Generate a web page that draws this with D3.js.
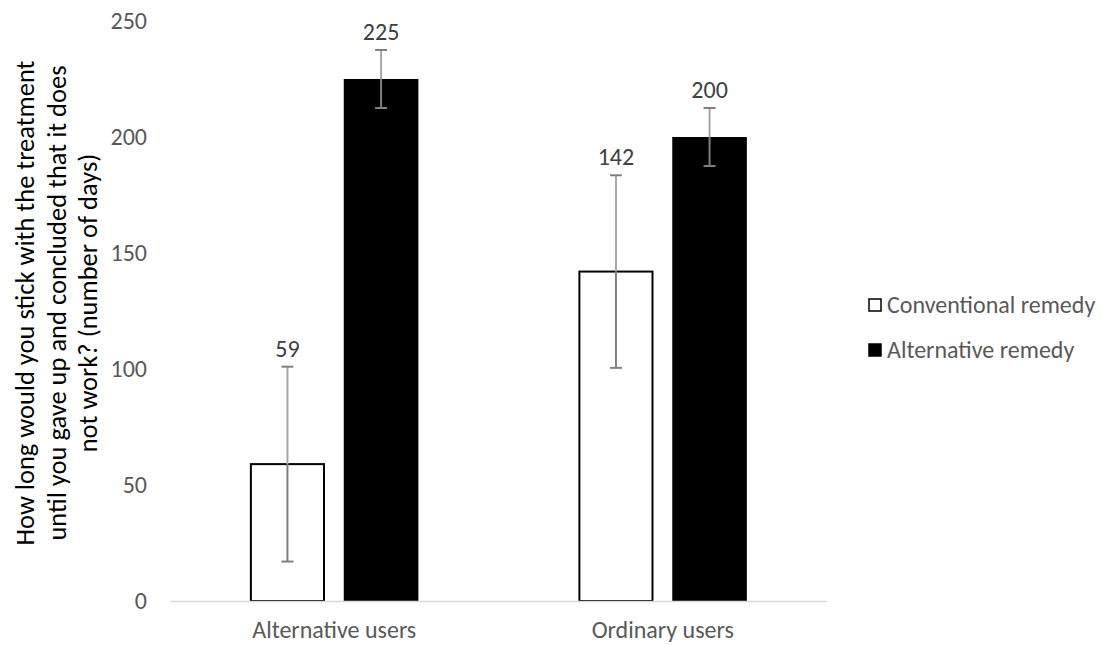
<!DOCTYPE html>
<html>
<head>
<meta charset="utf-8">
<script src="https://cdn.jsdelivr.net/npm/d3@7"></script>
<style>
  html, body { margin: 0; padding: 0; background: #fff; }
  svg { display: block; font-family: Calibri, Carlito, Lato, sans-serif; }
</style>
</head>
<body>
<svg id="chart" width="1101" height="645"></svg>
<script>
// ---- data ----
const categories = ["Alternative users", "Ordinary users"];
const seriesNames = ["Conventional remedy", "Alternative remedy"];
const conventionalValues = [59, 142];
const alternativeValues = [225, 200];
const conventionalErrors = [42, 41.5];
const alternativeErrors = [12.5, 12.5];
const yTicks = [0, 50, 100, 150, 200, 250];
const yTitleLines = [
  "How long would you stick with the treatment",
  "until you gave up and  concluded that it does",
  "not work? (number of days)"
];
const seriesFill = ["#ffffff", "#000000"];

(function () {
const rows = [];
categories.forEach((c, i) => {
  rows.push({cat: c, s: seriesNames[0], v: conventionalValues[i], e: conventionalErrors[i], fill: seriesFill[0]});
  rows.push({cat: c, s: seriesNames[1], v: alternativeValues[i], e: alternativeErrors[i], fill: seriesFill[1]});
});

const FONT = "Calibri, Carlito, Lato, sans-serif";
const svg = d3.select("#chart");
const mLeft = 170, mRight = 827, mBottom = 601, mTop = 21;

const x0 = d3.scaleBand().domain(categories).range([mLeft, mRight]).paddingInner(0).paddingOuter(0);
const x1 = d3.scaleBand().domain(seriesNames).range([0, x0.bandwidth()]).paddingInner(0.203).paddingOuter(0.856);
const y = d3.scaleLinear().domain([0, 250]).range([mBottom, mTop]);

// y tick labels (no axis line)
const yAxis = svg.append("g").attr("transform", `translate(${mLeft},0)`)
  .call(d3.axisLeft(y).tickValues(yTicks).tickSize(0).tickPadding(23));
yAxis.select(".domain").remove();
yAxis.selectAll("text").attr("font-size", 24).attr("fill", "#595959")
  .attr("font-family", FONT);

// bars
svg.append("g").selectAll("rect").data(rows).enter().append("rect")
  .attr("x", d => x0(d.cat) + x1(d.s) + (d.fill === "#ffffff" ? 0.75 : 0))
  .attr("y", d => y(d.v))
  .attr("width", d => x1.bandwidth() - (d.fill === "#ffffff" ? 1.5 : 0))
  .attr("height", d => y(0) - y(d.v))
  .attr("fill", d => d.fill)
  .attr("stroke", d => d.fill === "#ffffff" ? "#000" : "none")
  .attr("stroke-width", 2);

// x axis line + category labels
const xAxis = svg.append("g").attr("transform", `translate(0,${mBottom})`)
  .call(d3.axisBottom(x0).tickSize(0).tickPadding(20));
xAxis.select(".domain").attr("stroke", "#d9d9d9").attr("stroke-width", 1.5);
xAxis.selectAll("text").attr("font-size", 24).attr("fill", "#595959")
  .attr("font-family", FONT);

// error bars
const eg = svg.append("g");
rows.forEach(d => {
  const cx = x0(d.cat) + x1(d.s) + x1.bandwidth() / 2;
  eg.append("line").attr("x1", cx).attr("x2", cx)
    .attr("y1", y(d.v + d.e)).attr("y2", y(d.v))
    .attr("stroke", "#a6a6a6").attr("stroke-width", 2);
  eg.append("line").attr("x1", cx).attr("x2", cx)
    .attr("y1", y(d.v)).attr("y2", y(d.v - d.e))
    .attr("stroke", "#7f7f7f").attr("stroke-width", 2);
  [d.v + d.e, d.v - d.e].forEach(val => {
    eg.append("line").attr("x1", cx - 6).attr("x2", cx + 6)
      .attr("y1", y(val)).attr("y2", y(val))
      .attr("stroke", "#7f7f7f").attr("stroke-width", 2);
  });
  // data label
  eg.append("text").attr("x", cx).attr("y", y(d.v + d.e) - 10)
    .attr("text-anchor", "middle").attr("font-size", 24).attr("fill", "#404040")
    .attr("font-family", FONT)
    .text(d.v);
});

// y title
const yt = svg.append("text")
  .attr("transform", "translate(0,303) rotate(-90)")
  .attr("text-anchor", "middle").attr("font-size", 26.5).attr("fill", "#000")
  .attr("font-family", FONT);
yTitleLines.forEach((l, i) => {
  yt.append("tspan").attr("x", 0).attr("y", 34 + i * 31.5).text(l);
});

// legend
const lg = svg.append("g");
seriesNames.forEach((s, i) => {
  const cy = 305 + i * 45;
  lg.append("rect").attr("x", 869).attr("y", cy - 6).attr("width", 12).attr("height", 12)
    .attr("fill", seriesFill[i]).attr("stroke", "#000").attr("stroke-width", 1.5);
  lg.append("text").attr("x", 887).attr("y", cy).attr("dy", "0.35em")
    .attr("font-size", 24).attr("fill", "#595959").attr("font-family", FONT).text(s);
});
})();
</script>
</body>
</html>
